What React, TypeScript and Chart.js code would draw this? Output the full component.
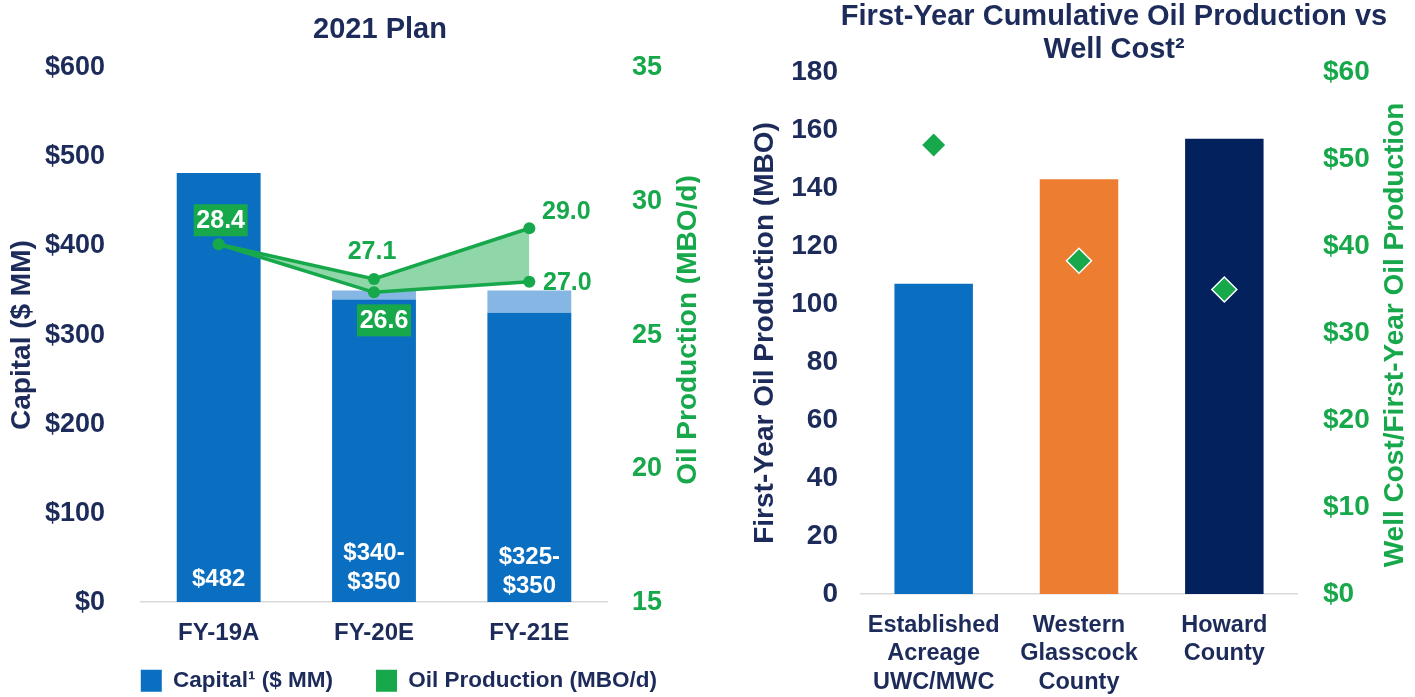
import React, { useEffect, useRef } from 'react';
import { Chart, registerables } from 'chart.js';

Chart.register(...registerables);

const FONT = '"Liberation Sans", Arial, Helvetica, sans-serif';
Chart.defaults.font.family = FONT;

const NAVY = '#1c2b5a';
const GREEN = '#17a84b';
const MINT = '#8fd6a8';
const BLUE = '#0b6fc1';
const LIGHT_BLUE = '#86b6e3';
const ORANGE = '#ed7d31';
const DARK_NAVY = '#03215d';
const AXIS_LINE = '#d9d9d9';

// ---- Left chart data: 2021 Plan ----
const planCategories = ['FY-19A', 'FY-20E', 'FY-21E'];
const capitalLow = [482, 340, 325];
const capitalHigh = [482, 350, 350];
const oilHigh = [28.4, 27.1, 29.0];
const oilLow = [28.4, 26.6, 27.0];
const capitalTickStep = 100;
const oilTickStep = 5;

// ---- Right chart data: First-Year Cumulative Oil Production vs Well Cost ----
const wellCategories = [
  ['Established', 'Acreage', 'UWC/MWC'],
  ['Western', 'Glasscock', 'County'],
  ['Howard', 'County'],
];
const firstYearOil = [107, 143, 157];
const wellCostPerBbl = [51.6, 38.3, 35.0];
const wellBarColors = [BLUE, ORANGE, DARK_NAVY];
const oilTickStepRight = 20;
const costTickStep = 10;

const capitalRange = capitalHigh.map((h, i) => (h - capitalLow[i] > 0 ? h - capitalLow[i] : null));
const capitalLabels = capitalLow.map((lo, i) =>
  lo === capitalHigh[i] ? [`$${lo}`] : [`$${lo}-`, `$${capitalHigh[i]}`]
);

const headingPlugin = {
  id: 'chartHeading',
  afterDraw(chart: any, _args: any, opts: any) {
    const { ctx } = chart;
    ctx.save();
    ctx.font = `bold ${opts.size}px ${FONT}`;
    ctx.fillStyle = opts.color;
    ctx.textAlign = 'center';
    ctx.textBaseline = 'middle';
    opts.lines.forEach((l: any) => ctx.fillText(l.text, l.x, l.y));
    ctx.restore();
  },
};

// Right-side axis titles read bottom-to-top in the reference
const sideTitlePlugin = {
  id: 'sideTitles',
  afterDraw(chart: any, _args: any, opts: any) {
    const { ctx, chartArea } = chart;
    const cy = (chartArea.top + chartArea.bottom) / 2;
    opts.items.forEach((it: any) => {
      ctx.save();
      ctx.translate(it.x, cy + (it.dy || 0));
      ctx.rotate(-Math.PI / 2);
      ctx.font = `bold ${it.size}px ${FONT}`;
      ctx.fillStyle = it.color;
      ctx.textAlign = 'center';
      ctx.textBaseline = 'middle';
      ctx.fillText(it.text, 0, 0);
      ctx.restore();
    });
  },
};

const planLabelsPlugin = {
  id: 'planLabels',
  afterDatasetsDraw(chart: any, _args: any, opts: any) {
    const { ctx, scales } = chart;
    const x = scales.x;
    const y = scales.y;
    const y1 = scales.y1;
    ctx.save();
    ctx.textAlign = 'center';
    ctx.textBaseline = 'middle';
    ctx.font = `bold 24px ${FONT}`;
    ctx.fillStyle = '#ffffff';
    capitalLabels.forEach((lines, i) => {
      const cx = x.getPixelForValue(i);
      const base = y.getPixelForValue(0) - opts.barBottom[i];
      lines.forEach((t, k) => {
        ctx.fillText(t, cx, base - (lines.length - 1 - k) * 29);
      });
    });
    ctx.font = `bold 25px ${FONT}`;
    opts.oil.forEach((s: any) => {
      const series = s.series === 'high' ? oilHigh : oilLow;
      const v = series[s.i];
      const cx = x.getPixelForValue(s.i) + s.dx;
      const cy = y1.getPixelForValue(v) + s.dy;
      const text = v.toFixed(1);
      if (s.boxed) {
        ctx.fillStyle = GREEN;
        ctx.fillRect(cx - 27, cy - 16, 54, 32);
        ctx.fillStyle = '#ffffff';
      } else {
        ctx.fillStyle = GREEN;
      }
      ctx.fillText(text, cx, cy + 1);
    });
    ctx.restore();
  },
};

function leftConfig(): any {
  return {
    type: 'bar',
    data: {
      labels: planCategories,
      datasets: [
        {
          type: 'line',
          label: 'Oil Production low',
          data: oilLow,
          yAxisID: 'y1',
          borderColor: GREEN,
          backgroundColor: GREEN,
          borderWidth: 3.5,
          pointRadius: 6,
          pointBackgroundColor: GREEN,
          pointBorderWidth: 0,
          fill: false,
          tension: 0,
        },
        {
          type: 'line',
          label: 'Oil Production high',
          data: oilHigh,
          yAxisID: 'y1',
          borderColor: GREEN,
          backgroundColor: MINT,
          borderWidth: 3.5,
          pointRadius: 6,
          pointBackgroundColor: GREEN,
          pointBorderWidth: 0,
          fill: '-1',
          tension: 0,
        },
        {
          type: 'bar',
          label: 'Capital',
          data: capitalLow,
          yAxisID: 'y',
          backgroundColor: BLUE,
          stack: 'cap',
          categoryPercentage: 1,
          barPercentage: 0.54,
        },
        {
          type: 'bar',
          label: 'Capital range',
          data: capitalRange,
          yAxisID: 'y',
          backgroundColor: LIGHT_BLUE,
          stack: 'cap',
          categoryPercentage: 1,
          barPercentage: 0.54,
        },
      ],
    },
    plugins: [headingPlugin, sideTitlePlugin, planLabelsPlugin],
    options: {
      responsive: false,
      animation: false,
      events: [],
      layout: { padding: { top: 68, bottom: -5, left: 0, right: 0 } },
      plugins: {
        title: { display: false },
        tooltip: { enabled: false },
        legend: {
          position: 'bottom',
          align: 'end',
          labels: {
            boxWidth: 21,
            boxHeight: 22,
            padding: 43,
            color: NAVY,
            font: { size: 22.5, weight: 'bold', family: FONT },
            generateLabels: () => [
              { text: 'Capital¹ ($ MM)', fillStyle: BLUE, strokeStyle: BLUE, lineWidth: 0, hidden: false, fontColor: NAVY, datasetIndex: 2 },
              { text: 'Oil Production (MBO/d)', fillStyle: GREEN, strokeStyle: GREEN, lineWidth: 0, hidden: false, fontColor: NAVY, datasetIndex: 0 },
            ],
          },
        },
        chartHeading: { size: 29, color: NAVY, lines: [{ text: '2021 Plan', x: 380, y: 30 }] },
        sideTitles: {
          items: [{ text: 'Oil Production (MBO/d)', x: 688, dy: -5, size: 28, color: GREEN }],
        },
        planLabels: {
          barBottom: [23, 20, 16],
          oil: [
            { series: 'high', i: 0, dx: 2, dy: -24, boxed: true },
            { series: 'high', i: 1, dx: -2, dy: -28, boxed: false },
            { series: 'low', i: 1, dx: 10, dy: 28, boxed: true },
            { series: 'high', i: 2, dx: 37, dy: -17, boxed: false },
            { series: 'low', i: 2, dx: 38, dy: 0, boxed: false },
          ],
        },
      },
      scales: {
        x: {
          stacked: true,
          grid: { display: false, drawTicks: false },
          border: { display: true, color: AXIS_LINE, width: 1.5 },
          ticks: { color: NAVY, font: { size: 24, weight: 'bold' }, mirror: true, padding: -45.4 },
          afterFit: (s: any) => { s.height = 24.4; },
        },
        y: {
          stacked: true,
          min: 0,
          max: 600,
          grid: { display: false, drawTicks: false },
          border: { display: false },
          ticks: {
            stepSize: capitalTickStep,
            color: NAVY,
            font: { size: 27, weight: 'bold' },
            padding: 36,
            callback: (v: any) => `$${v}`,
          },
          title: {
            display: true,
            text: 'Capital ($ MM)',
            color: NAVY,
            font: { size: 28, weight: 'bold' },
            padding: { top: 5.2, bottom: 0 },
          },
          afterFit: (s: any) => { s.width = 141; },
        },
        y1: {
          position: 'right',
          min: 15,
          max: 35,
          grid: { display: false, drawTicks: false },
          border: { display: false },
          ticks: {
            stepSize: oilTickStep,
            color: GREEN,
            font: { size: 27, weight: 'bold' },
            padding: 25,
          },
          title: { display: false },
          afterFit: (s: any) => { s.width = 93; },
        },
      },
    },
  };
}

function rightConfig(): any {
  return {
    type: 'bar',
    data: {
      labels: wellCategories,
      datasets: [
        {
          type: 'line',
          label: 'Well Cost/First-Year Oil Production',
          data: wellCostPerBbl,
          yAxisID: 'y1',
          showLine: false,
          pointStyle: 'rectRot',
          pointRadius: 12.5,
          pointBackgroundColor: GREEN,
          pointBorderColor: '#ffffff',
          pointBorderWidth: 1.5,
          order: 0,
        },
        {
          type: 'bar',
          label: 'First-Year Oil Production (MBO)',
          data: firstYearOil,
          yAxisID: 'y',
          backgroundColor: wellBarColors,
          categoryPercentage: 1,
          barPercentage: 0.54,
          order: 1,
        },
      ],
    },
    plugins: [headingPlugin, sideTitlePlugin],
    options: {
      responsive: false,
      animation: false,
      events: [],
      layout: { padding: { top: 72, bottom: 0, left: 0, right: 0 } },
      plugins: {
        title: { display: false },
        tooltip: { enabled: false },
        legend: { display: false },
        chartHeading: {
          size: 29,
          color: NAVY,
          lines: [
            { text: 'First-Year Cumulative Oil Production vs', x: 414, y: 17 },
            { text: 'Well Cost²', x: 414, y: 50 },
          ],
        },
        sideTitles: {
          items: [{ text: 'Well Cost/First-Year Oil Production', x: 695, dy: 2, size: 28, color: GREEN }],
        },
      },
      scales: {
        x: {
          grid: { display: false, drawTicks: false },
          border: { display: true, color: AXIS_LINE, width: 1.5 },
          ticks: { color: NAVY, font: { size: 23.5, weight: 'bold', lineHeight: 1.21 }, padding: 17 },
          afterFit: (s: any) => { s.height = 103; },
        },
        y: {
          min: 0,
          max: 180,
          grid: { display: false, drawTicks: false },
          border: { display: false },
          ticks: {
            stepSize: oilTickStepRight,
            color: NAVY,
            font: { size: 28, weight: 'bold' },
            padding: 23,
          },
          title: {
            display: true,
            text: 'First-Year Oil Production (MBO)',
            color: NAVY,
            font: { size: 28, weight: 'bold' },
            padding: { top: 48.2, bottom: 0 },
          },
          afterFit: (s: any) => { s.width = 161; },
        },
        y1: {
          position: 'right',
          min: 0,
          max: 60,
          grid: { display: false, drawTicks: false },
          border: { display: false },
          ticks: {
            stepSize: costTickStep,
            color: GREEN,
            font: { size: 28, weight: 'bold' },
            padding: 26,
            callback: (v: any) => `$${v}`,
          },
          title: { display: false },
          afterFit: (s: any) => { s.width = 118; },
        },
      },
    },
  };
}

export default function App() {
  const leftRef = useRef<HTMLCanvasElement>(null);
  const rightRef = useRef<HTMLCanvasElement>(null);

  useEffect(() => {
    const left = new Chart(leftRef.current as HTMLCanvasElement, leftConfig());
    const right = new Chart(rightRef.current as HTMLCanvasElement, rightConfig());
    return () => {
      left.destroy();
      right.destroy();
    };
  }, []);

  return (
    <div style={{ position: 'absolute', left: 0, top: 0, width: 1415, height: 697, background: '#ffffff', overflow: 'hidden' }}>
      <canvas ref={leftRef} width={700} height={697} style={{ position: 'absolute', left: 0, top: 0, width: 700, height: 697 }} />
      <canvas ref={rightRef} width={715} height={697} style={{ position: 'absolute', left: 700, top: 0, width: 715, height: 697 }} />
    </div>
  );
}
